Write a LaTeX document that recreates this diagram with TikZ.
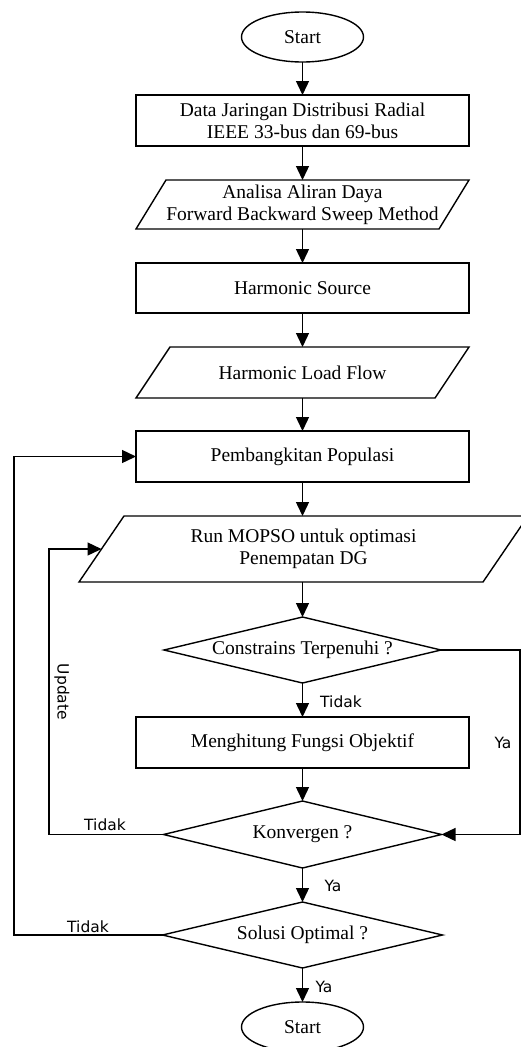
\documentclass[tikz,border=0pt]{standalone}
\usepackage{fontspec}
\setmainfont{Liberation Serif}
\newfontfamily\labfont{DejaVu Sans}
\usetikzlibrary{arrows.meta,shapes.geometric,calc}
\begin{document}
\begin{tikzpicture}[x=1pt,y=-1pt,
  every node/.style={inner sep=0pt, outer sep=0pt},
  edge/.style={line width=1.4pt, line join=miter},
  arr/.style={edge, -{Triangle[length=14pt,width=13pt]}},
  txt/.style={font=\fontsize{19.5}{22}\selectfont, align=center},
  procbox/.style={txt, draw, line width=1.4pt, minimum width=333pt, minimum height=51pt},
  term/.style={txt, draw, line width=1.4pt, ellipse, minimum width=122pt, minimum height=50pt},
  lab/.style={font=\labfont\fontsize{15.5}{18}\selectfont}
]
\useasboundingbox (0,0) rectangle (521,1047);

% nodes
\node[term] (s) at (302.5,37) {Start};
\node[procbox] (d) at (302.5,120.5) {Data Jaringan Distribusi Radial\\IEEE 33-bus dan 69-bus};
\node[txt, minimum width=303pt, minimum height=49pt] (p1) at (302.5,204.5) {Analisa Aliran Daya\\Forward Backward Sweep Method};
\draw[edge] ([xshift=-15pt]p1.south west) -- ([xshift=-15pt]p1.south east) -- ([xshift=15pt]p1.north east) -- ([xshift=15pt]p1.north west) -- cycle;
\node[procbox, minimum height=50pt] (hs) at (302.5,288) {Harmonic Source};
\node[txt, minimum width=299pt, minimum height=51pt] (p2) at (302.5,372.5) {Harmonic Load Flow};
\draw[edge] ([xshift=-17pt]p2.south west) -- ([xshift=-17pt]p2.south east) -- ([xshift=17pt]p2.north east) -- ([xshift=17pt]p2.north west) -- cycle;
\node[procbox] (pp) at (302.5,456.5) {Pembangkitan Populasi};
\node[txt, minimum width=404pt, minimum height=66pt] (p3) at (303.5,549) {Run MOPSO untuk optimasi\\Penempatan DG};
\draw[edge] ([xshift=-22.5pt]p3.south west) -- ([xshift=-22.5pt]p3.south east) -- ([xshift=22.5pt]p3.north east) -- ([xshift=22.5pt]p3.north west) -- cycle;
\node[txt, minimum width=277pt, minimum height=66pt] (c) at (302.5,650) {Constrains Terpenuhi ?};
\draw[edge] (c.west) -- (c.north) -- (c.east) -- (c.south) -- cycle;
\node[procbox] (mf) at (302.5,742.5) {Menghitung Fungsi Objektif};
\node[txt, minimum width=278pt, minimum height=67pt] (k) at (302.5,834.5) {Konvergen ?};
\draw[edge] (k.west) -- (k.north) -- (k.east) -- (k.south) -- cycle;
\node[txt, minimum width=280pt, minimum height=66pt] (so) at (302.5,935) {Solusi Optimal ?};
\draw[edge] (so.west) -- (so.north) -- (so.east) -- (so.south) -- cycle;
\node[term] (e) at (302.5,1027) {Start};

% coordinates for loops
\coordinate (cr) at (520,650);
\coordinate (kl) at (49,834.5);
\coordinate (sl) at (14,935);

% main flow
\draw[arr] (s.south) -- (d.north);
\draw[arr] (d.south) -- (p1.north);
\draw[arr] (p1.south) -- (hs.north);
\draw[arr] (hs.south) -- (p2.north);
\draw[arr] (p2.south) -- (pp.north);
\draw[arr] (pp.south) -- (pp.south |- p3.north);
\draw[arr] (c.north |- p3.south) -- (c.north);
\draw[arr] (c.south) -- (mf.north);
\draw[arr] (mf.south) -- (k.north);
\draw[arr] (k.south) -- (so.north);
\draw[arr] (so.south) -- (e.north);

% loops
\draw[arr] (c.east) -- (cr) |- (k.east);
\draw[arr] (k.west) -- (kl) |- (p3.west);
\draw[arr] (so.west) -- (sl) |- (pp.west);

% labels
\node[lab] (t1) at (341,702) {Tidak};
\node[lab] (y1) at (503,743) {Ya};
\node[lab, rotate=-90] (up) at (62,692) {Update};
\node[lab] (t2) at (105,825) {Tidak};
\node[lab] (y2) at (333,886) {Ya};
\node[lab] (t3) at (88,927) {Tidak};
\node[lab] (y3) at (324,987) {Ya};
\end{tikzpicture}
\end{document}
